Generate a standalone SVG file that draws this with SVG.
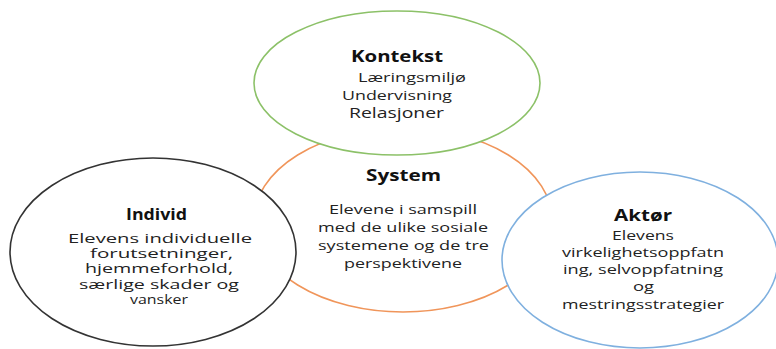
<svg xmlns="http://www.w3.org/2000/svg" width="776" height="349" viewBox="0 0 776 349">
<style>
.e{fill:#fff;stroke-width:1.6}
.h{font-family:"Open Sans","Liberation Sans",sans-serif;font-weight:bold;font-size:16px;fill:#111}
.t{font-family:"Open Sans","Liberation Sans",sans-serif;font-size:12.5px;fill:#222}
.s{font-size:11.8px}
</style>
<rect width="776" height="349" fill="#fff"/>
<g id="system">
<ellipse class="e" cx="403" cy="220" rx="149" ry="92" stroke="#F0955A"/>
<text class="h" x="366" y="181" textLength="75" lengthAdjust="spacingAndGlyphs">System</text>
<text class="t" x="329" y="214" textLength="148" lengthAdjust="spacingAndGlyphs">Elevene i samspill</text>
<text class="t" x="318" y="232" textLength="170" lengthAdjust="spacingAndGlyphs">med de ulike sosiale</text>
<text class="t" x="318" y="250" textLength="171" lengthAdjust="spacingAndGlyphs">systemene og de tre</text>
<text class="t" x="344" y="268" textLength="118" lengthAdjust="spacingAndGlyphs">perspektivene</text>
</g>
<g id="kontekst">
<ellipse class="e" cx="397" cy="83" rx="143" ry="72" stroke="#8CC168"/>
<text class="h" x="351" y="62" textLength="92" lengthAdjust="spacingAndGlyphs">Kontekst</text>
<text class="t" x="358" y="82" textLength="108" lengthAdjust="spacingAndGlyphs">Læringsmiljø</text>
<text class="t" x="342" y="100" textLength="110" lengthAdjust="spacingAndGlyphs">Undervisning</text>
<text class="t" x="349" y="118" textLength="95" lengthAdjust="spacingAndGlyphs" style="font-size:14px">Relasjoner</text>
</g>
<g id="individ">
<ellipse class="e" cx="153" cy="252" rx="143" ry="94" stroke="#333"/>
<text class="h" x="126" y="220" textLength="61" lengthAdjust="spacingAndGlyphs">Individ</text>
<text class="t s" x="68" y="243" textLength="184" lengthAdjust="spacingAndGlyphs">Elevens individuelle</text>
<text class="t s" x="90" y="258" textLength="143" lengthAdjust="spacingAndGlyphs">forutsetninger,</text>
<text class="t s" x="85" y="273" textLength="148" lengthAdjust="spacingAndGlyphs">hjemmeforhold,</text>
<text class="t s" x="79" y="289" textLength="160" lengthAdjust="spacingAndGlyphs">særlige skader og</text>
<text class="t s" x="130" y="304" textLength="58" lengthAdjust="spacingAndGlyphs">vansker</text>
</g>
<g id="aktor">
<ellipse class="e" cx="640" cy="260" rx="138" ry="88" stroke="#7FB0DF"/>
<text class="h" x="614" y="221" textLength="58" lengthAdjust="spacingAndGlyphs">Aktør</text>
<text class="t" x="612" y="240" textLength="62" lengthAdjust="spacingAndGlyphs">Elevens</text>
<text class="t" x="562" y="257" textLength="162" lengthAdjust="spacingAndGlyphs">virkelighetsoppfatn</text>
<text class="t" x="563" y="274" textLength="160" lengthAdjust="spacingAndGlyphs">ing, selvoppfatning</text>
<text class="t" x="633" y="291" textLength="21" lengthAdjust="spacingAndGlyphs">og</text>
<text class="t" x="562" y="309" textLength="162" lengthAdjust="spacingAndGlyphs">mestringsstrategier</text>
</g>
<g id="connectors"></g>
</svg>
